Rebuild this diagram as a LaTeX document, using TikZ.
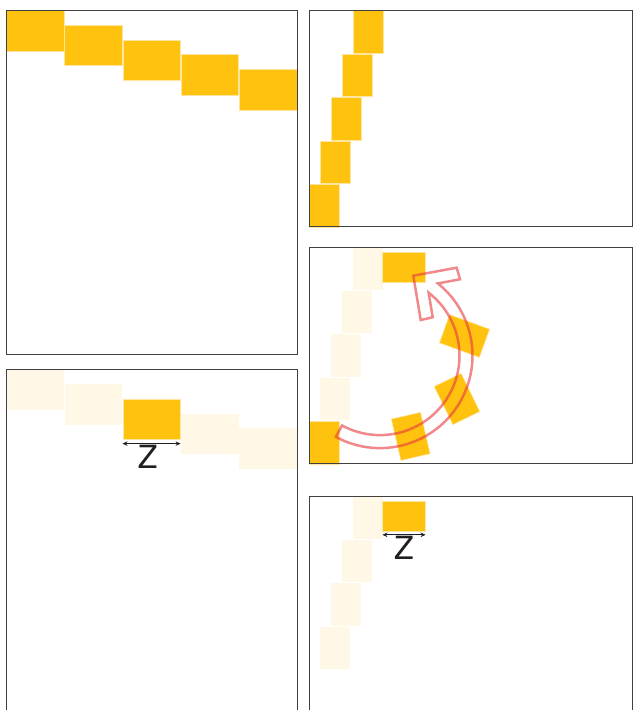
\documentclass[tikz,border=0pt]{standalone}
\usepackage{fontspec}
\setsansfont{TeX Gyre Heros}
\usetikzlibrary{arrows.meta}
\definecolor{tileyellow}{HTML}{FFC20E}
\definecolor{tilepale}{HTML}{FFF8E6}
\definecolor{tileedge}{HTML}{FFE6A0}
\definecolor{turnred}{HTML}{E8383D}
\definecolor{ink}{HTML}{231F20}

\begin{document}
\begin{tikzpicture}[x=1pt,y=1pt,
	frame/.style={draw=black!75,line width=1pt},
	tile/.style={fill=tileyellow,draw=tileedge,line width=0.6pt,inner sep=0pt,minimum width=57.5pt,minimum height=40.5pt},
	ghost/.style={tile,fill=tilepale,draw=none},
	upright/.style={minimum width=30pt,minimum height=42.5pt},
	flat/.style={minimum width=42.5pt,minimum height=30pt},
	dim/.style={{Stealth[length=5pt,width=4.5pt]}-{Stealth[length=5pt,width=4.5pt]},draw=ink,line width=1pt},
	dimlabel/.style={below,inner sep=1pt,text=ink,font=\sffamily\fontsize{32}{32}\selectfont},
	turn/.style={draw=turnred,draw opacity=0.6,line width=2.5pt,line join=miter}]
	\useasboundingbox (0,0) rectangle (633,-710);
	\foreach \i in {0,...,4}
		\node[tile,anchor=north west] (a\i) at (6+58.25*\i,-10-14.75*\i) {};
	\foreach \i in {0,...,4}
		\node[tile,upright,anchor=north west] (b\i) at (353-11*\i,-10-43.5*\i) {};
	\foreach \i in {0,1,3,4}
		\node[ghost,anchor=north west] (c\i) at (6+58.25*\i,-369-14.75*\i) {};
	\node[tile,anchor=north west] (c2) at (122.5,-398.5) {};
	\draw[dim] ([yshift=-4pt]c2.south west) -- ([yshift=-4pt]c2.south east) node[dimlabel,midway,xshift=-4pt] {Z};
	\foreach \i in {0,...,3}
		\node[ghost,upright,anchor=north west] (d\i) at (353-11*\i,-247-43.5*\i) {};
	\node[tile,upright,anchor=north west] (d4) at (309,-421) {};
	\foreach \x/\y/\r [count=\k] in {410.7/-436.4/13,457/-399/26,464.5/-336/70}
		\node[tile,upright,rotate=\r] (turn\k) at (\x,\y) {};
	\node[tile,flat] (dtop) at (404,-267) {};
	\foreach \i in {0,...,3}
		\node[ghost,upright,anchor=north west] (e\i) at (353-11*\i,-496-43.5*\i) {};
	\node[tile,flat] (etop) at (404,-516.5) {};
	\draw[dim] ([yshift=-3pt]etop.south west) -- ([yshift=-3pt]etop.south east) node[dimlabel,midway] {Z};
	\draw[frame] (6,-10) rectangle (297,-354);
	\draw[frame] (309,-10) rectangle (632,-226);
	\draw[frame] (309,-247) rectangle (632,-463);
	\draw[frame] (6,-712) -- (6,-369) -- (297,-369) -- (297,-712);
	\draw[frame] (309,-712) -- (309,-496) -- (632,-496) -- (632,-712);
	\coordinate (pivot) at (380,-355.6);
	\draw[turn] ([shift={(-118.5:92.5)}]pivot) arc[start angle=-118.5,end angle=51.3,radius=92.5]
		-- (460,-279.3) -- (456.7,-267.7) -- (413.3,-275.7) -- (420.7,-320) -- (432.7,-317.3)
		-- ([shift={(52.3:79.5)}]pivot) arc[start angle=52.3,end angle=-118.5,radius=79.5] -- cycle;
\end{tikzpicture}
\end{document}
